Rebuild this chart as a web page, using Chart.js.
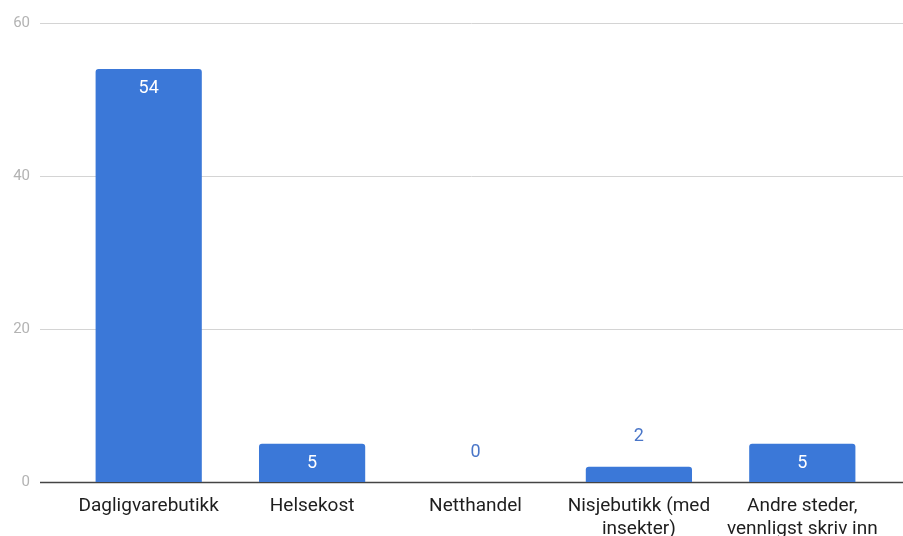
<!DOCTYPE html>
<html>
<head>
<meta charset="utf-8">
<script src="https://cdn.jsdelivr.net/npm/chart.js@4/dist/chart.umd.min.js"></script>
<style>
  html, body { margin: 0; padding: 0; background: #fff; }
  #wrap { width: 903px; height: 536px; }
</style>
</head>
<body>
<div id="wrap"><canvas id="myBarChart"></canvas></div>
<script>
  var categories = [
      'Dagligvarebutikk',
      'Helsekost',
      'Netthandel',
      ['Nisjebutikk (med', 'insekter)'],
      ['Andre steder,', 'vennligst skriv inn']
  ];
  var counts = [54, 5, 0, 2, 5];
  var yTicks = [0, 20, 40, 60];

  var barColor = '#3b78d8';
  var fontFamily = 'Roboto, "Noto Sans", sans-serif';

  // horizontal grid lines run the full width, baseline drawn darker
  var gridPlugin = {
      id: 'fullGrid',
      beforeDatasetsDraw: function (chart) {
          var ctx = chart.ctx;
          var y = chart.scales.y;
          ctx.save();
          yTicks.forEach(function (v) {
              var py = Math.round(y.getPixelForValue(v)) + 0.5;
              ctx.beginPath();
              ctx.strokeStyle = v === 0 ? '#444' : '#d4d4d4';
              ctx.lineWidth = v === 0 ? 1.5 : 1;
              ctx.moveTo(40, py);
              ctx.lineTo(chart.width, py);
              ctx.stroke();
          });
          ctx.restore();
      }
  };

  // value labels: inside the bar when it is tall enough, above it otherwise
  var labelPlugin = {
      id: 'barLabels',
      afterDatasetsDraw: function (chart) {
          var ctx = chart.ctx;
          var meta = chart.getDatasetMeta(0);
          ctx.save();
          ctx.font = '18px ' + fontFamily;
          ctx.textAlign = 'center';
          ctx.textBaseline = 'middle';
          meta.data.forEach(function (bar, i) {
              var v = counts[i];
              var h = bar.base - bar.y;
              if (h > 30) {
                  ctx.fillStyle = '#ffffff';
                  ctx.fillText(String(v), bar.x, bar.y + 20);
              } else {
                  ctx.fillStyle = '#4a76c8';
                  ctx.fillText(String(v), bar.x, bar.y - 30);
              }
          });
          ctx.restore();
      }
  };

  var ctxBar = document.getElementById('myBarChart').getContext('2d');
  var barChart = new Chart(ctxBar, {
      type: 'bar',
      data: {
          labels: categories,
          datasets: [{
              data: counts,
              backgroundColor: barColor,
              borderWidth: 0,
              borderRadius: { topLeft: 3, topRight: 3 },
              borderSkipped: 'bottom',
              barPercentage: 0.65,
              categoryPercentage: 1
          }]
      },
      options: {
          responsive: true,
          maintainAspectRatio: false,
          animation: false,
          layout: { padding: { top: 23, right: 19, left: 0, bottom: 0 } },
          plugins: {
              legend: { display: false },
              tooltip: { enabled: false }
          },
          scales: {
              x: {
                  grid: { display: false },
                  border: { display: false },
                  ticks: {
                      color: '#1e1e1e',
                      font: { family: fontFamily, size: 19, lineHeight: 1.25 },
                      maxRotation: 0,
                      autoSkip: false,
                      padding: 4
                  },
                  afterFit: function (scale) {
                      scale.height = 54;
                      scale.paddingLeft = 0;
                      scale.paddingRight = 0;
                  }
              },
              y: {
                  min: 0,
                  max: 60,
                  grid: { display: false, drawTicks: false },
                  border: { display: false },
                  afterBuildTicks: function (scale) {
                      scale.ticks = yTicks.map(function (v) { return { value: v }; });
                  },
                  ticks: {
                      color: '#b3b3b3',
                      font: { family: fontFamily, size: 15 },
                      padding: 37
                  },
                  afterFit: function (scale) {
                      scale.width = 67;
                      scale.paddingTop = 0;
                      scale.paddingBottom = 0;
                  }
              }
          }
      },
      plugins: [gridPlugin, labelPlugin]
  });
</script>
</body>
</html>
